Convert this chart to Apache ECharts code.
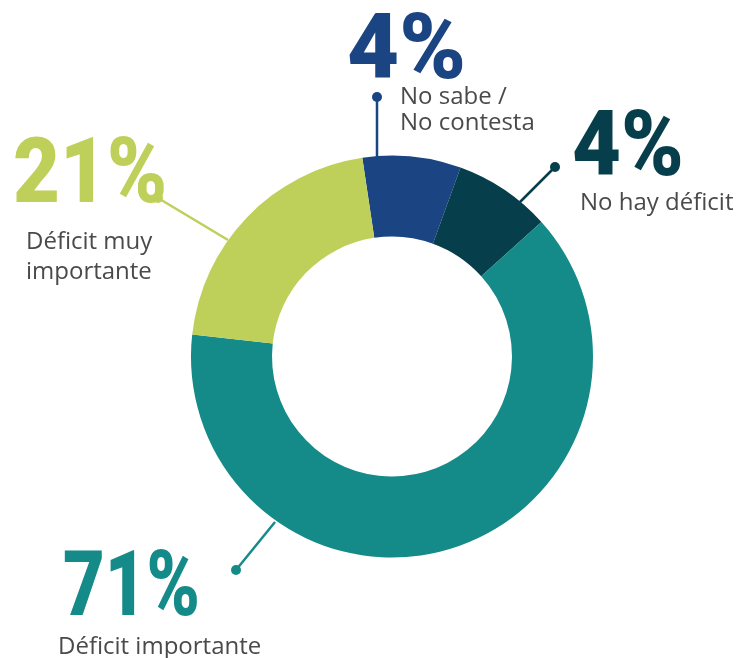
<!DOCTYPE html>
<html>
<head>
<meta charset="utf-8">
<script src="https://cdn.jsdelivr.net/npm/echarts@6/dist/echarts.min.js"></script>
<style>
html,body{margin:0;padding:0;background:#fff;}
#chart{width:738px;height:658px;}
</style>
</head>
<body>
<div id="chart"></div>
<script>
// Data (slice sizes as drawn in the picture, and the printed labels)
const categories = ['No sabe / No contesta', 'No hay déficit', 'Déficit importante', 'Déficit muy importante'];
const sliceValues = [7.9, 7.8, 63.4, 20.9];
const percentLabels = ['4%', '4%', '71%', '21%'];
const nameLines = [['No sabe /', 'No contesta'], ['No hay déficit'], ['Déficit importante'], ['Déficit muy', 'importante']];
const colors = ['#1b4482', '#073e4b', '#148a89', '#bfd05a'];

const chart = echarts.init(document.getElementById('chart'), null, {renderer: 'canvas'});

const bigFont = 'Roboto, Inter, sans-serif';
const smallFont = '"Open Sans", "Noto Sans", sans-serif';
const BIG = 90, SMALL = 24;

// label layout (positions only): num/txt = [x, baseline]
const labelPos = [
  {num: [347, 78], sx: 1.0, txt: [400, 102], lh: 26, dot: [377, 97], end: [377, 157]},
  {num: [572, 175], sx: 0.94, txt: [580, 208], lh: 26, dot: [555, 167], end: [520, 202]},
  {num: [63, 615], sx: 0.8, txt: [58, 652], lh: 26, dot: [236, 570], end: [275, 522]},
  {num: [13, 202], sx: 0.9, txt: [26, 247], lh: 30, dot: [158, 198], end: [228, 240]}
];

const graphics = [];
categories.forEach((c, i) => {
  const p = labelPos[i];
  graphics.push({
    type: 'line', silent: true,
    shape: {x1: p.dot[0], y1: p.dot[1], x2: p.end[0], y2: p.end[1]},
    style: {stroke: colors[i], lineWidth: 2.5}
  });
  graphics.push({
    type: 'circle', silent: true,
    shape: {cx: p.dot[0], cy: p.dot[1], r: 5},
    style: {fill: colors[i]}
  });
  graphics.push({
    type: 'text', silent: true,
    x: p.num[0], y: p.num[1] - BIG * 0.755, scaleX: p.sx, scaleY: 1,
    style: {
      x: 0, y: 0, text: percentLabels[i],
      fontFamily: bigFont, fontSize: BIG, fontWeight: 900, fill: colors[i],
      align: 'left', verticalAlign: 'top', lineHeight: BIG
    }
  });
  nameLines[i].forEach((ln, j) => {
    graphics.push({
      type: 'text', silent: true,
      style: {
        x: p.txt[0], y: p.txt[1] + j * p.lh - 17, text: ln,
        fontFamily: smallFont, fontSize: SMALL, fontWeight: 400, fill: '#4a4a4a',
        align: 'left', verticalAlign: 'top'
      }
    });
  });
});

chart.setOption({
  animation: false,
  backgroundColor: '#ffffff',
  series: [{
    type: 'pie',
    center: [392, 356.5],
    radius: [120, 201],
    startAngle: 98.5,
    clockwise: true,
    avoidLabelOverlap: false,
    label: {show: false},
    labelLine: {show: false},
    itemStyle: {borderWidth: 0},
    emphasis: {disabled: true},
    data: categories.map((c, i) => ({name: c, value: sliceValues[i], itemStyle: {color: colors[i]}}))
  }],
  graphic: graphics
});
</script>
</body>
</html>
